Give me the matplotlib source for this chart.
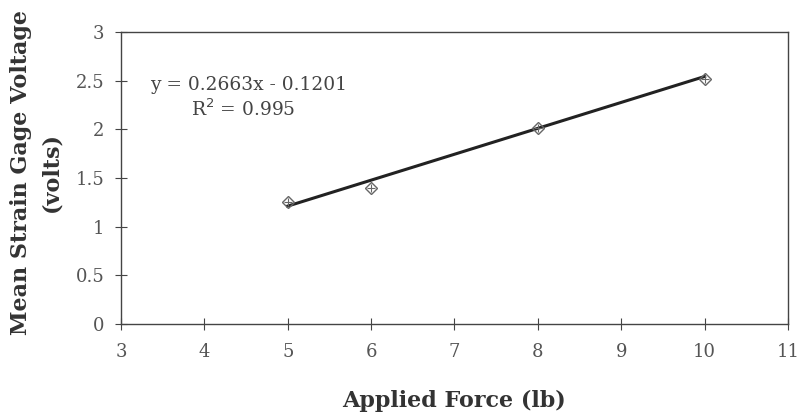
import matplotlib
matplotlib.use("Agg")
import matplotlib.pyplot as plt
import numpy as np

force = [5, 6, 8, 10]
voltage = [1.25, 1.40, 2.01, 2.52]
slope = 0.2663
intercept = -0.1201
x_ticks = [3, 4, 5, 6, 7, 8, 9, 10, 11]
y_ticks = [0, 0.5, 1, 1.5, 2, 2.5, 3]
y_tick_labels = ["0", "0.5", "1", "1.5", "2", "2.5", "3"]

plt.rcParams['font.family'] = ['DejaVu Serif']

fig = plt.figure(figsize=(7.99, 4.13), dpi=100)
ax = fig.add_axes([0.1514, 0.2155, 0.8348, 0.707])

xf = np.array([min(force), max(force)])
ax.plot(xf, slope * xf + intercept, color='#222222', lw=2.2, zorder=2)
ax.plot(force, voltage, linestyle='none', marker='D', ms=6, mfc='none', mec='#666666', mew=1.0, zorder=3)
ax.plot(force, voltage, linestyle='none', marker='+', ms=6, mec='#666666', mew=0.8, zorder=3)

ax.set_xlim(3, 11)
ax.set_ylim(0, 3)
ax.set_xticks(x_ticks)
ax.set_yticks(y_ticks)
ax.set_yticklabels(y_tick_labels)
ax.tick_params(direction='inout', length=8, width=0.8, colors='#444444', labelsize=13, labelcolor='#555555')
ax.tick_params(axis='x', pad=10)
ax.tick_params(axis='y', pad=8)
for s in ax.spines.values():
    s.set_linestyle((0, (1, 1)))
    s.set_color('#444444')
    s.set_linewidth(1.0)
ax.spines['bottom'].set_linestyle((0, (3, 1)))

ax.text(0.044, 0.82, "y = 0.2663x - 0.1201", transform=ax.transAxes, fontsize=13.4, color='#444444', ha='left', va='center')
ax.text(0.105, 0.735, "R$^2$ = 0.995", transform=ax.transAxes, fontsize=13.4, color='#444444', ha='left', va='center')

ax.set_xlabel("Applied Force (lb)", fontsize=16, fontweight='bold', color='#333333', va='center')
ax.xaxis.set_label_coords(0.5, -0.262)
ax.set_ylabel("Mean Strain Gage Voltage\n(volts)", fontsize=16, fontweight='bold', color='#333333', linespacing=1.5, va='center')
ax.yaxis.set_label_coords(-0.127, 0.52)

fig.savefig("out.png", dpi=100)
